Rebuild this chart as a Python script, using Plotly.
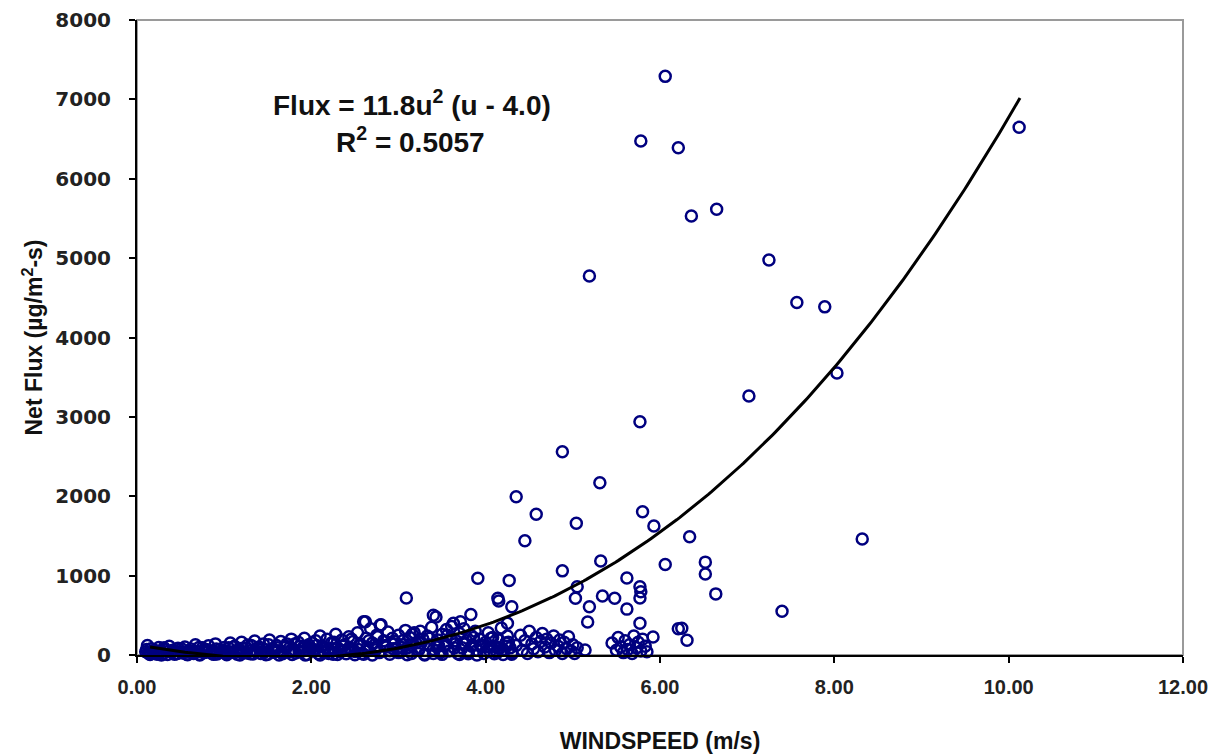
import numpy as np
import plotly.graph_objects as go

# ---- data ----
# dense low-windspeed band
ws_band = [0.10, 0.12, 0.14, 0.16, 0.18, 0.20, 0.23, 0.25, 0.27, 0.30, 0.32, 0.35, 0.37, 0.40, 0.42, 0.45, 0.47, 0.50, 0.52,
           0.55, 0.57, 0.60, 0.62, 0.65, 0.67, 0.70, 0.72, 0.75, 0.77, 0.80, 0.82, 0.85, 0.87, 0.90, 0.92, 0.95, 0.97, 1.00,
           1.02, 1.05, 1.07, 1.10, 1.12, 1.15, 1.17, 1.20, 1.22, 1.25, 1.27, 1.30, 1.32, 1.35, 1.37, 1.40, 1.42, 1.45, 1.47,
           1.50, 1.52, 1.55, 1.57, 1.60, 1.62, 1.65, 1.67, 1.70, 1.72, 1.75, 1.77, 1.80, 1.82, 1.85, 1.87, 1.90, 1.92, 1.95,
           1.97, 2.00,
           0.15, 0.28, 0.43, 0.58, 0.72, 0.88, 1.03, 1.18, 1.33, 1.48, 1.63, 1.78, 1.93,
           0.11, 0.21, 0.31, 0.41, 0.51, 0.61, 0.71, 0.81, 0.91, 1.01, 1.11, 1.21, 1.31, 1.41, 1.51, 1.61, 1.71, 1.81,
           1.91, 2.01,
           0.13, 0.24, 0.35, 0.46, 0.56, 0.66, 0.76, 0.86, 0.96, 1.06, 1.16, 1.26, 1.36, 1.46, 1.56, 1.66, 1.76, 1.86,
           1.96]
flux_band = [40, 120, 15, 80, 30, 60, 10, 95, 45, 20, 70, 5, 110, 35, 60, 15, 85, 40, 25,
             100, 10, 55, 75, 20, 130, 45, 8, 90, 30, 60, 115, 25, 50, 140, 12, 70, 35, 95,
             20, 90, 150, 40, 110, 10, 70, 160, 30, 85, 125, 15, 60, 175, 45, 100, 20, 140, 65,
             10, 190, 80, 35, 120, 55, 170, 15, 95, 140, 40, 200, 70, 25, 160, 110, 50, 210, 5,
             130, 85,
             5, 0, 10, 3, 0, 8, 2, 0, 12, 4, 0, 6, 1,
             70, 50, 90, 60, 80, 45, 95, 65, 75, 55, 100, 85, 120, 70, 130, 90, 110, 140,
             100, 150,
             30, 25, 45, 20, 35, 28, 40, 22, 38, 30, 45, 25, 50, 35, 60, 40, 55, 45,
             70]

ws_mid = [2.02, 2.05, 2.08, 2.10, 2.13, 2.15, 2.18, 2.20, 2.23, 2.25, 2.28, 2.30, 2.33, 2.35, 2.38, 2.40, 2.43, 2.45,
          2.48, 2.50, 2.53, 2.55, 2.58, 2.60, 2.63, 2.65, 2.68, 2.70, 2.73, 2.75, 2.78, 2.80, 2.83, 2.85, 2.88, 2.90,
          2.93, 2.95, 2.98,
          3.00, 3.03, 3.05, 3.08, 3.10, 3.13, 3.15, 3.18, 3.20, 3.23, 3.25, 3.28, 3.30, 3.33, 3.35, 3.38, 3.40, 3.43,
          3.45, 3.48, 3.50, 3.53, 3.55, 3.58, 3.60, 3.63, 3.65, 3.68, 3.70, 3.73, 3.75, 3.78, 3.80, 3.83, 3.85, 3.88,
          3.90, 3.93, 3.95, 3.98, 4.00, 4.03, 4.05, 4.08, 4.10, 4.13, 4.15, 4.18, 4.20, 4.23, 4.25, 4.28, 4.30,
          2.10, 2.30, 2.50, 2.70, 2.90, 3.10, 3.30, 3.50, 3.70, 3.90, 4.10, 4.30, 2.20, 2.60, 3.00, 3.40, 3.80, 4.20,
          2.06, 2.16, 2.26, 2.36, 2.46, 2.56, 2.66, 2.76, 2.86, 2.96, 3.06, 3.16, 3.26, 3.36, 3.46, 3.56, 3.66, 3.76,
          3.86, 3.96, 4.06, 4.16, 4.26,
          2.04, 2.14, 2.24, 2.34, 2.44, 2.54, 2.64, 2.74, 2.84, 2.94, 3.04, 3.14, 3.24, 3.34, 3.44, 3.54, 3.64, 3.74,
          3.84, 3.94, 4.04, 4.14, 4.24]
flux_mid = [60, 180, 20, 240, 110, 30, 200, 75, 150, 10, 260, 95, 40, 190, 130, 15, 230, 70,
            170, 45, 280, 120, 20, 420, 210, 60, 330, 150, 90, 250, 30, 380, 180, 120, 290, 55,
            210, 140, 80,
            250, 40, 180, 310, 90, 220, 20, 280, 150, 60, 300, 200, 10, 240, 120, 350, 70, 480,
            190, 30, 260, 110, 320, 50, 210, 400, 140, 20, 270, 90, 330, 180, 40, 250, 130, 300,
            60, 200, 100, 20, 160, 280, 50, 220, 110, 30, 190, 340, 70, 150, 240, 90, 30,
            0, 5, 2, 0, 10, 3, 0, 8, 5, 0, 15, 10, 20, 10, 30, 20, 15, 5,
            120, 90, 160, 110, 200, 140, 180, 230, 100, 170, 130, 260, 150, 210, 120, 250, 180, 140,
            220, 120, 210, 90, 160,
            60, 50, 80, 50, 90, 70, 100, 65, 110, 80, 95, 120, 85, 130, 100, 140, 90, 150,
            110, 120, 100, 90, 110]

ws_cluster = [4.35, 4.40, 4.42, 4.45, 4.48, 4.50, 4.53, 4.55, 4.58, 4.60, 4.63, 4.65, 4.68, 4.70, 4.73, 4.75, 4.78,
              4.80, 4.83, 4.85, 4.88, 4.90, 4.93, 4.95, 4.98, 5.00, 5.02, 5.05,
              5.45, 5.50, 5.52, 5.55, 5.58, 5.60, 5.63, 5.65, 5.68, 5.70, 5.73, 5.75, 5.78, 5.80, 5.83, 5.85]
flux_cluster = [120, 250, 60, 180, 20, 300, 140, 80, 220, 40, 170, 270, 100, 200, 30, 150, 240,
                60, 110, 190, 20, 160, 80, 230, 50, 130, 20, 90,
                150, 60, 220, 100, 30, 180, 70, 130, 20, 240, 90, 160, 50, 200, 110, 40]

# scattered / outlying points
ws_out = [2.62, 2.79, 3.09, 3.40, 3.61, 3.71, 3.83, 3.91, 4.14, 4.15, 4.25, 4.27, 4.30, 4.35, 4.45, 4.58, 4.88,
          4.88, 5.03, 5.05, 5.04, 5.14, 5.17, 5.19, 5.19, 5.31, 5.32, 5.34, 5.48, 5.62, 5.62, 5.77, 5.77, 5.78,
          5.77, 5.77, 5.78, 5.80, 5.93, 5.92, 6.06, 6.06, 6.21, 6.21, 6.25, 6.31, 6.34, 6.36, 6.52, 6.52, 6.64,
          6.65, 7.02, 7.25, 7.40, 7.57, 7.89, 8.03, 8.32, 10.12]
flux_out = [420, 378, 718, 500, 360, 420, 510, 968, 714, 680, 400, 940, 609, 1995, 1440, 1772, 2561,
            1060, 714, 861, 1659, 63, 415, 609, 4775, 2171, 1184, 743, 714, 970, 578, 399, 718, 798,
            861, 2939, 6476, 1806, 1625, 227, 7290, 1140, 330, 6391, 336, 185, 1491, 5531, 1170, 1020, 770,
            5617, 3263, 4976, 550, 4440, 4386, 3553, 1461, 6648]

# polynomial trend line (coefficients read to match the drawn curve) and its extent
trend_coeffs = [3.391, 52.80, -202.9, 130.4]
trend_range = [0.15, 10.13]

annot_eq = "Flux = 11.8u<sup>2</sup> (u - 4.0)"
annot_r2 = "R<sup>2</sup> = 0.5057"
x_title = "WINDSPEED (m/s)"
y_title = "Net Flux (µg/m<sup>2</sup>-s)"
x_ticks = [0, 2, 4, 6, 8, 10, 12]
y_ticks = [0, 1000, 2000, 3000, 4000, 5000, 6000, 7000, 8000]

# ---- figure ----
ws_all = ws_band + ws_mid + ws_cluster + ws_out
flux_all = flux_band + flux_mid + flux_cluster + flux_out

navy = "#00007f"
fig = go.Figure()
fig.add_trace(go.Scatter(
    x=ws_all, y=flux_all, mode="markers",
    marker=dict(symbol="circle-open", size=11, color=navy, line=dict(width=2.5, color=navy)),
    cliponaxis=False, showlegend=False, hoverinfo="x+y"))

u = np.linspace(trend_range[0], trend_range[1], 300)
fig.add_trace(go.Scatter(
    x=u, y=np.polyval(trend_coeffs, u), mode="lines",
    line=dict(color="black", width=3), showlegend=False, hoverinfo="skip"))

ytick_font = dict(family="DejaVu Sans", size=20, color="#222222", weight="bold")
xtick_font = dict(family="Liberation Sans", size=20, color="#222222", weight="bold")
title_font = dict(family="Liberation Sans", size=23, color="#111111", weight="bold")

fig.update_layout(
    width=1221, height=755,
    margin=dict(l=129, r=46, t=12, b=108, autoexpand=False),
    paper_bgcolor="white", plot_bgcolor="white",
    font=dict(family="Liberation Sans", color="#111111"),
    xaxis=dict(range=[0, 12], tickvals=x_ticks, tickformat=".2f", automargin=False,
               showgrid=False, zeroline=False, showline=True, linecolor="black", linewidth=2,
               ticks="outside", ticklen=6, tickwidth=2, tickcolor="black",
               tickfont=xtick_font, ticklabelstandoff=7,
               title=dict(text=x_title, standoff=36, font=title_font)),
    yaxis=dict(range=[0, 8000], tickvals=y_ticks, automargin=False,
               showgrid=False, zeroline=False, showline=True, linecolor="black", linewidth=2,
               # long invisible major ticks push the labels away from the axis,
               # short black minor ticks are the visible tick marks
               ticks="outside", ticklen=20, tickwidth=2, tickcolor="rgba(255,255,255,0)",
               minor=dict(tickmode="array", tickvals=y_ticks, ticks="outside", ticklen=6,
                          tickwidth=2, tickcolor="black", showgrid=False),
               tickfont=ytick_font,
               title=dict(text=y_title, standoff=6, font=title_font)),
    shapes=[dict(type="rect", xref="paper", yref="paper", x0=0, x1=1, y0=0, y1=1,
                 line=dict(color="#9a9a9a", width=2), layer="below")],
    annotations=[
        dict(text=annot_eq, xref="paper", yref="paper", x=0.263, y=0.869, showarrow=False,
             xanchor="center", yanchor="middle",
             font=dict(family="Liberation Sans", size=28, color="#111111", weight="bold")),
        dict(text=annot_r2, xref="paper", yref="paper", x=0.261, y=0.811, showarrow=False,
             xanchor="center", yanchor="middle",
             font=dict(family="Liberation Sans", size=28, color="#111111", weight="bold")),
    ],
)

fig.write_html("out.html")
